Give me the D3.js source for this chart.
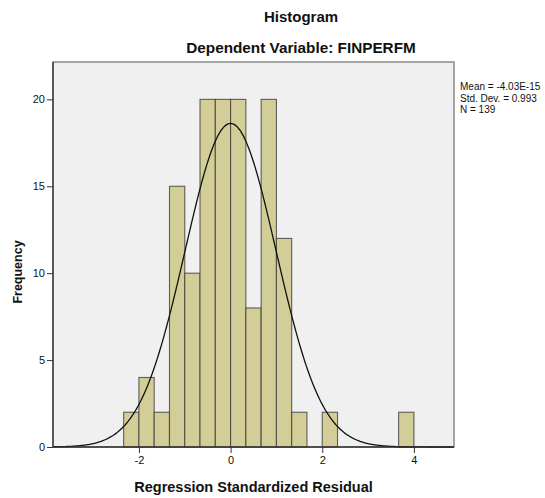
<!DOCTYPE html>
<html>
<head>
<meta charset="utf-8">
<script src="https://cdn.jsdelivr.net/npm/d3@7"></script>
<style>
  html, body { margin: 0; padding: 0; background: #fff; }
  svg { display: block; font-family: "Liberation Sans", Arial, sans-serif; }
</style>
</head>
<body>
<div id="chart"></div>
<script>
// histogram of regression standardized residuals (SPSS style)
const binLeft = [-2.333, -2, -1.667, -1.333, -1, -0.667, -0.333, 0, 0.333, 0.667, 1, 1.333, 2, 3.667];
const counts  = [2, 4, 2, 15, 10, 20, 20, 20, 8, 20, 12, 2, 2, 2];
const binWidth = 1 / 3;
const xTicks = [-2, 0, 2, 4];
const yTicks = [0, 5, 10, 15, 20];
const statMean = -4.03e-15;
const statSd = 0.993;
const statN = 139;
const statLines = ['Mean = -4.03E-15', 'Std. Dev. = 0.993', 'N = 139'];

const width = 545, height = 498;
const plot = { left: 53, right: 454, top: 62, bottom: 447 };

const svg = d3.select('#chart').append('svg')
  .attr('width', width)
  .attr('height', height);

const x = d3.scaleLinear().domain([-3.875, 4.875]).range([plot.left, plot.right]);
const y = d3.scaleLinear().domain([0, 22.15]).range([plot.bottom, plot.top]);

// plot background
svg.append('rect')
  .attr('x', plot.left).attr('y', plot.top)
  .attr('width', plot.right - plot.left).attr('height', plot.bottom - plot.top)
  .attr('fill', '#f0f0f0')
  .attr('stroke', '#6e6e6e')
  .attr('stroke-width', 1.2);

// bars
const bins = binLeft.map((b, i) => ({ x0: b, x1: b + binWidth, n: counts[i] }));
svg.append('g').selectAll('rect')
  .data(bins)
  .join('rect')
  .attr('x', d => x(d.x0))
  .attr('y', d => y(d.n))
  .attr('width', d => x(d.x1) - x(d.x0))
  .attr('height', d => y(0) - y(d.n))
  .attr('fill', '#d3ce97')
  .attr('stroke', '#3c3c3c')
  .attr('stroke-opacity', 0.8)
  .attr('stroke-width', 1.1);

// normal curve
const pdf = v => Math.exp(-0.5 * Math.pow((v - statMean) / statSd, 2)) / (statSd * Math.sqrt(2 * Math.PI));
const curvePts = d3.range(-3.875, 4.8751, 0.025).map(v => [v, statN * binWidth * pdf(v)]);
svg.append('path')
  .attr('d', d3.line().x(d => x(d[0])).y(d => y(d[1])).curve(d3.curveBasis)(curvePts))
  .attr('fill', 'none')
  .attr('stroke', '#111')
  .attr('stroke-width', 1.3);

// axes (plain hyphen for negatives, like SPSS)
const fmt = d => String(d);
const xAxis = svg.append('g')
  .attr('transform', `translate(0,${plot.bottom})`)
  .call(d3.axisBottom(x).tickValues(xTicks).tickSize(6).tickPadding(3).tickFormat(fmt));
const yAxis = svg.append('g')
  .attr('transform', `translate(${plot.left},0)`)
  .call(d3.axisLeft(y).tickValues(yTicks).tickSize(6).tickPadding(2).tickFormat(fmt));

[xAxis, yAxis].forEach(g => {
  g.select('.domain').remove();
  g.selectAll('line').attr('stroke', '#333');
  g.selectAll('text').attr('fill', '#111').attr('font-size', '11px')
    .attr('font-family', '"Liberation Sans", Arial, sans-serif');
});

// axis lines
svg.append('line')
  .attr('x1', plot.left).attr('x2', plot.right)
  .attr('y1', plot.bottom).attr('y2', plot.bottom)
  .attr('stroke', '#333').attr('stroke-width', 1.3);
svg.append('line')
  .attr('x1', plot.left).attr('x2', plot.left)
  .attr('y1', plot.top).attr('y2', plot.bottom)
  .attr('stroke', '#333').attr('stroke-width', 1.3);

// titles
svg.append('text')
  .attr('x', 301).attr('y', 22)
  .attr('text-anchor', 'middle')
  .attr('font-size', '15px').attr('font-weight', 'bold').attr('fill', '#111')
  .text('Histogram');
svg.append('text')
  .attr('x', 301).attr('y', 53)
  .attr('text-anchor', 'middle')
  .attr('font-size', '15.3px').attr('font-weight', 'bold').attr('fill', '#111')
  .text('Dependent Variable: FINPERFM');

svg.append('text')
  .attr('x', (plot.left + plot.right) / 2).attr('y', 492)
  .attr('text-anchor', 'middle')
  .attr('font-size', '14.5px').attr('font-weight', 'bold').attr('fill', '#111')
  .text('Regression Standardized Residual');

svg.append('text')
  .attr('transform', 'translate(22,272) rotate(-90)')
  .attr('text-anchor', 'middle')
  .attr('font-size', '12.5px').attr('font-weight', 'bold').attr('fill', '#111')
  .text('Frequency');

// stats legend
svg.append('g').selectAll('text')
  .data(statLines)
  .join('text')
  .attr('x', 460)
  .attr('y', (d, i) => 90 + i * 11.5)
  .attr('font-size', '10px').attr('fill', '#111')
  .text(d => d);
</script>
</body>
</html>
